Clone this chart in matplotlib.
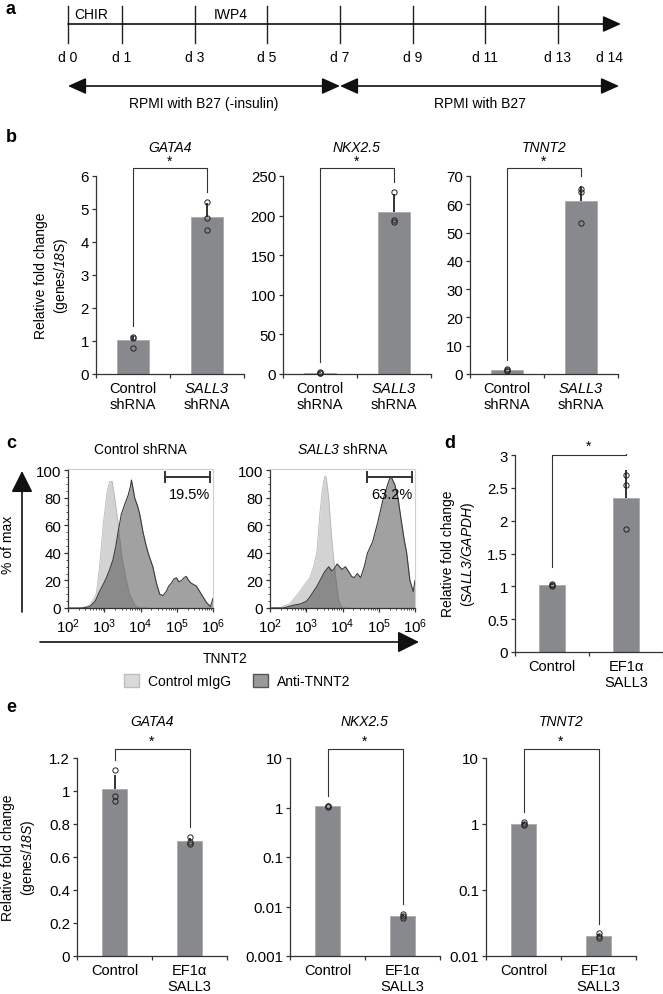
import numpy as np
import matplotlib
matplotlib.use('Agg')
import matplotlib.pyplot as plt
import matplotlib.transforms as mtransforms
from matplotlib.patches import Patch
from matplotlib.ticker import MultipleLocator, NullLocator, LogLocator

plt.rcParams['font.family'] = ['Liberation Sans', 'DejaVu Sans']
plt.rcParams['mathtext.fontset'] = 'custom'
plt.rcParams['mathtext.rm'] = 'Liberation Sans'
plt.rcParams['mathtext.it'] = 'Liberation Sans:italic'
# sf slot used for italic gene names so digits are slanted too
plt.rcParams['mathtext.sf'] = 'Liberation Sans:italic'
plt.rcParams['mathtext.bf'] = 'Liberation Sans:bold'
plt.rcParams['font.size'] = 10

# ---- data ----
days = ['d 0', 'd 1', 'd 3', 'd 5', 'd 7', 'd 9', 'd 11', 'd 13', 'd 14']
treatments = ['CHIR', 'IWP4']
media = ['RPMI with B27 (-insulin)', 'RPMI with B27']

genes = ['GATA4', 'NKX2.5', 'TNNT2']
kd_groups = ['Control\nshRNA', '$\\mathsf{SALL3}$\nshRNA']
oe_groups = ['Control', 'EF1\u03b1\nSALL3']

# b: knockdown qPCR (genes/18S)
kd_gata4_mean = [1.03, 4.75]
kd_gata4_sd = [0.12, 0.43]
kd_gata4_pts = [[0.80, 1.10, 1.12], [4.35, 4.73, 5.20]]
kd_nkx25_mean = [1.6, 205]
kd_nkx25_sd = [0.8, 22]
kd_nkx25_pts = [[1.0, 1.8, 2.5], [192, 194, 230]]
kd_tnnt2_mean = [1.3, 61.0]
kd_tnnt2_sd = [0.3, 5.5]
kd_tnnt2_pts = [[1.0, 1.3, 1.6], [53.5, 64.5, 65.5]]

# c: flow histograms (log10 TNNT2 intensity, % of max)
ctrl_igg_x = [2.30, 2.45, 2.60, 2.78, 2.87, 2.97, 3.08, 3.15, 3.22, 3.29, 3.38, 3.47, 3.59, 3.70, 3.84, 3.98, 4.20]
ctrl_igg_y = [0, 0.5, 2, 10, 30, 60, 85, 92, 92, 80, 62, 40, 22, 10, 2, 0, 0]
ctrl_anti_x = [2.0, 2.40, 2.60, 2.75, 2.87, 2.97, 3.06, 3.15, 3.24, 3.32, 3.38, 3.47, 3.56, 3.66, 3.72, 3.75,
               3.80, 3.84, 3.92, 3.98, 4.07, 4.14, 4.21, 4.34, 4.44, 4.53, 4.62, 4.71, 4.78, 4.85, 4.92, 4.99,
               5.06, 5.13, 5.20, 5.26, 5.33, 5.40, 5.47, 5.54, 5.61, 5.68, 5.75, 5.82, 5.93, 6.0]
ctrl_anti_y = [0, 0, 1, 5, 12, 17, 22, 28, 35, 45, 55, 68, 75, 82, 88, 93,
               86, 80, 74, 68, 55, 47, 40, 30, 18, 10, 9, 12, 16, 18, 21, 22,
               19, 20, 22, 23, 20, 18, 17, 16, 13, 10, 7, 4, 1, 7]
sall3_igg_x = [2.0, 2.30, 2.54, 2.70, 2.82, 2.95, 3.10, 3.20, 3.29, 3.38, 3.44, 3.48, 3.52, 3.55, 3.62,
               3.66, 3.71, 3.76, 3.80, 3.86, 3.90, 3.99, 4.20]
sall3_igg_y = [0, 0.5, 3, 8, 12, 17, 22, 30, 40, 70, 85, 92, 96, 95, 80, 65, 48, 35, 25, 12, 5, 0, 0]
sall3_anti_x = [2.0, 2.36, 2.64, 2.85, 3.01, 3.10, 3.20, 3.30, 3.38, 3.50, 3.62, 3.70, 3.76, 3.85, 3.92, 3.99,
                4.08, 4.18, 4.25, 4.32, 4.41, 4.50, 4.55, 4.60, 4.69, 4.76, 4.83, 4.90, 4.97, 5.04, 5.11,
                5.18, 5.25, 5.30, 5.35, 5.40, 5.44, 5.53, 5.63, 5.70, 5.77, 5.86, 5.95, 6.0]
sall3_anti_y = [0, 0, 2, 3, 5, 8, 12, 16, 20, 26, 30, 27, 28, 32, 30, 28,
                30, 26, 23, 22, 25, 22, 26, 30, 40, 44, 48, 55, 62, 70, 78,
                84, 90, 94, 95, 92, 90, 80, 62, 50, 40, 20, 12, 20]
gate_pct = ['19.5%', '63.2%']

# d: SALL3 overexpression (SALL3/GAPDH)
oe_sall3_mean = [1.02, 2.35]
oe_sall3_sd = [0.03, 0.42]
oe_sall3_pts = [[1.00, 1.02, 1.04], [1.88, 2.55, 2.70]]

# e: overexpression qPCR (genes/18S)
oe_gata4_mean = [1.01, 0.697]
oe_gata4_sd = [0.09, 0.02]
oe_gata4_pts = [[0.94, 0.97, 1.127], [0.68, 0.69, 0.72]]
oe_nkx25_mean = [1.05, 0.0065]
oe_nkx25_sd = [0.03, 0.0005]
oe_nkx25_pts = [[1.02, 1.05, 1.08], [0.0059, 0.0065, 0.0071]]
oe_tnnt2_mean = [1.0, 0.020]
oe_tnnt2_sd = [0.07, 0.0015]
oe_tnnt2_pts = [[0.95, 1.0, 1.08], [0.019, 0.020, 0.022]]

# ---- style ----
W, H = 663, 995
BAR = '#88898d'
AXC = '#333333'
TICK_FS = 10.8
fig = plt.figure(figsize=(W / 100, H / 100), dpi=100)


def add_ax(x0, y0, x1, y1):
    return fig.add_axes([x0 / W, 1 - y1 / H, (x1 - x0) / W, (y1 - y0) / H])


def style_spines(ax):
    for s in ['top', 'right']:
        ax.spines[s].set_visible(False)
    for s in ['left', 'bottom']:
        ax.spines[s].set_color(AXC)
        ax.spines[s].set_linewidth(0.9)
    ax.tick_params(axis='y', which='major', length=3, width=0.9, color=AXC, pad=2, labelsize=TICK_FS)


def bar_panel(ax, labels, mean, sd, pts, width, log=False):
    x = np.arange(len(mean))
    bottom = ax.get_ylim()[0] if log else 0
    ax.bar(x, np.array(mean) - bottom, bottom=bottom, width=width, color=BAR,
           edgecolor='#a9aaad', linewidth=0.6, zorder=1)
    ax.errorbar(x, mean, yerr=[np.zeros(len(sd)), sd], fmt='none', ecolor='#111111',
                elinewidth=1.2, capsize=0, zorder=2)
    for xi, p in zip(x, pts):
        ax.plot(np.full(len(p), xi), p, 'o', ms=3.8, mfc='none', mec='#222222', mew=0.7,
                zorder=3, clip_on=False)
    ax.set_xlim(-0.5, 1.5)
    ax.set_xticks([-0.5, 0.5, 1.5])
    ax.set_xticklabels([])
    ax.set_xticks(x, labels, minor=True)
    ax.tick_params(axis='x', which='major', length=3, width=0.9, color=AXC)
    ax.tick_params(axis='x', which='minor', length=0, pad=5, labelsize=10.5)
    style_spines(ax)


def bracket(ax, mean, sd, pts, y_bar, y_star, gap=0.05):
    tr = mtransforms.blended_transform_factory(ax.transData, ax.transAxes)
    to_ax = ax.transData + ax.transAxes.inverted()
    legs = []
    for i, (m, s, p) in enumerate(zip(mean, sd, pts)):
        top = max(max(p), m + s)
        legs.append(to_ax.transform((i, top))[1] + gap)
    ax.plot([0, 0, 1, 1], [legs[0], y_bar, y_bar, legs[1]], color=AXC, lw=0.8,
            transform=tr, clip_on=False)
    ax.text(0.5, y_star, '*', transform=tr, ha='center', va='center', fontsize=10)


def title(ax, txt, y):
    ax.text(0.5, y, txt, transform=ax.transAxes, ha='center', va='center',
            style='italic', fontsize=10)


# overlay for panel a, labels, arrows
ov = fig.add_axes([0, 0, 1, 1], zorder=10)
ov.set_xlim(0, W)
ov.set_ylim(H, 0)
ov.axis('off')

# ---- panel a: timeline ----
tick_x = [68, 122, 195, 267, 340, 413, 485, 558, 609]
ov.annotate('', xy=(621, 25), xytext=(68, 25),
            arrowprops=dict(arrowstyle='-|>,head_length=1.0,head_width=0.45', mutation_scale=11,
                            lw=1.2, color='#111111', shrinkA=0, shrinkB=0))
for xx, lab in zip(tick_x, days):
    if lab != days[-1]:
        ov.plot([xx, xx], [7, 44], color='#222222', lw=1)
    ov.text(xx, 58, lab, ha='center', va='center', fontsize=10)
ov.text(74, 15, treatments[0], ha='left', va='center', fontsize=10)
ov.text(231, 15, treatments[1], ha='center', va='center', fontsize=10)
for xa, xb, lab in [(68, 340, media[0]), (340, 619, media[1])]:
    ov.annotate('', xy=(xb, 87), xytext=(xa, 87),
                arrowprops=dict(arrowstyle='<|-|>,head_length=1.0,head_width=0.45', mutation_scale=11,
                                lw=1.2, color='#111111', shrinkA=0, shrinkB=0))
    ov.text((xa + xb) / 2, 104, lab, ha='center', va='center', fontsize=10)

# ---- panel b ----
kd_sets = [(kd_gata4_mean, kd_gata4_sd, kd_gata4_pts, 6, 1),
           (kd_nkx25_mean, kd_nkx25_sd, kd_nkx25_pts, 250, 50),
           (kd_tnnt2_mean, kd_tnnt2_sd, kd_tnnt2_pts, 70, 10)]
for x0, gene, (m, s, p, top, step) in zip([96, 283, 470], genes, kd_sets):
    ax = add_ax(x0, 177, x0 + 148, 375)
    ax.set_ylim(0, top)
    ax.yaxis.set_major_locator(MultipleLocator(step))
    bar_panel(ax, kd_groups, m, s, p, width=0.44)
    bracket(ax, m, s, p, y_bar=1.04, y_star=1.075)
    title(ax, gene, 1.146)
ov.text(52, 276, 'Relative fold change\n(genes/$\\mathsf{18S}$)', rotation=90, ha='center',
        va='center', fontsize=10, linespacing=1.35, multialignment='center')

# ---- panel c: flow histograms ----
hist_sets = [('Control shRNA', ctrl_igg_x, ctrl_igg_y, ctrl_anti_x, ctrl_anti_y, gate_pct[0]),
             ('$\\mathsf{SALL3}$ shRNA', sall3_igg_x, sall3_igg_y, sall3_anti_x, sall3_anti_y, gate_pct[1])]
for x0, (ttl, gx, gy, axx, ay, pct) in zip([68, 270], hist_sets):
    ax = add_ax(x0, 470, x0 + 145, 609)
    ax.set_xscale('log')
    gxv = 10 ** np.array(gx)
    axv = 10 ** np.array(axx)
    ax.fill_between(gxv, gy, color='#d3d3d3', lw=0, zorder=1)
    ax.plot(gxv, gy, color='#b8b8b8', lw=0.6, zorder=1)
    ax.fill_between(axv, ay, color='#3c3c3c', alpha=0.48, lw=0, zorder=2)
    ax.plot(axv, ay, color='#3a3a3a', lw=0.8, zorder=3)
    ax.set_xlim(1e2, 1e6)
    ax.set_ylim(0, 101)
    ax.yaxis.set_major_locator(MultipleLocator(20))
    ax.yaxis.set_minor_locator(MultipleLocator(5))
    ax.xaxis.set_major_locator(LogLocator(base=10, numticks=10))
    ax.xaxis.set_minor_locator(LogLocator(base=10, subs=np.arange(2, 10), numticks=10))
    for s in ['top', 'right']:
        ax.spines[s].set_color('#cfcfcf')
        ax.spines[s].set_linewidth(0.8)
    for s in ['left', 'bottom']:
        ax.spines[s].set_color(AXC)
        ax.spines[s].set_linewidth(0.9)
    ax.tick_params(which='major', length=3, width=0.9, color=AXC, labelsize=TICK_FS, pad=2)
    ax.tick_params(which='minor', length=1.6, width=0.6, color=AXC)
    ax.tick_params(axis='x', which='major', pad=3)
    lo, hi = 10 ** 4.68, 10 ** 5.91
    ax.plot([lo, hi], [95, 95], color='#333333', lw=1.4)
    ax.plot([lo, lo], [91.5, 98.5], color='#333333', lw=1.4)
    ax.plot([hi, hi], [91.5, 98.5], color='#333333', lw=1.4)
    ax.text(10 ** 5.93, 83, pct, ha='right', va='center', fontsize=10.5)
    ax.text(0.5, 1.144, ttl, transform=ax.transAxes, ha='center', va='center', fontsize=10)

ov.annotate('', xy=(22, 472), xytext=(22, 613),
            arrowprops=dict(arrowstyle='-|>,head_length=1.1,head_width=0.55', mutation_scale=12,
                            lw=1.2, color='#111111', shrinkA=0, shrinkB=0))
ov.annotate('', xy=(419, 643), xytext=(40, 643),
            arrowprops=dict(arrowstyle='-|>,head_length=1.1,head_width=0.55', mutation_scale=12,
                            lw=1.2, color='#111111', shrinkA=0, shrinkB=0))
ov.text(8, 545, '% of max', rotation=90, ha='center', va='center', fontsize=10)
ov.text(225, 659, 'TNNT2', ha='center', va='center', fontsize=10)
handles = [Patch(facecolor='#dadada', edgecolor='#bdbdbd', label='Control mIgG'),
           Patch(facecolor='#9a9a9a', edgecolor='#555555', label='Anti-TNNT2')]
fig.legend(handles=handles, loc='center', bbox_to_anchor=(237 / W, 1 - 682 / H), ncol=2,
           frameon=False, handlelength=1.1, handleheight=1.1, columnspacing=1.6,
           handletextpad=0.6, fontsize=10)

# ---- panel d ----
ax = add_ax(515, 456, 663, 653)
ax.set_ylim(0, 3)
ax.yaxis.set_major_locator(MultipleLocator(0.5))
ax.yaxis.set_major_formatter(plt.FuncFormatter(lambda v, _: f'{v:g}'))
bar_panel(ax, oe_groups, oe_sall3_mean, oe_sall3_sd, oe_sall3_pts, width=0.34)
bracket(ax, oe_sall3_mean, oe_sall3_sd, oe_sall3_pts, y_bar=1.0, y_star=1.045, gap=0.08)
ov.text(459, 554, 'Relative fold change\n($\\mathsf{SALL3/GAPDH}$)', rotation=90, ha='center',
        va='center', fontsize=10, linespacing=1.35, multialignment='center')

# ---- panel e ----
oe_sets = [(oe_gata4_mean, oe_gata4_sd, oe_gata4_pts, False, (0, 1.2)),
           (oe_nkx25_mean, oe_nkx25_sd, oe_nkx25_pts, True, (0.001, 10)),
           (oe_tnnt2_mean, oe_tnnt2_sd, oe_tnnt2_pts, True, (0.01, 10))]
for x0, gene, (m, s, p, lg, lim) in zip([77, 290, 486], genes, oe_sets):
    ax = add_ax(x0, 759, x0 + 150, 957)
    if lg:
        ax.set_yscale('log')
        ax.set_ylim(*lim)
        ax.yaxis.set_major_locator(LogLocator(base=10, numticks=10))
        ax.yaxis.set_minor_locator(NullLocator())
    else:
        ax.set_ylim(*lim)
        ax.yaxis.set_major_locator(MultipleLocator(0.2))
    ax.yaxis.set_major_formatter(plt.FuncFormatter(lambda v, _: f'{v:g}'))
    bar_panel(ax, oe_groups, m, s, p, width=0.34, log=lg)
    bracket(ax, m, s, p, y_bar=1.045, y_star=1.085)
    title(ax, gene, 1.187)
ov.text(19, 858, 'Relative fold change\n(genes/$\\mathsf{18S}$)', rotation=90, ha='center',
        va='center', fontsize=10, linespacing=1.35, multialignment='center')

# panel letters
for lab, xx, yy in [('a', 6, 10), ('b', 6, 137), ('c', 6, 443), ('d', 444, 443), ('e', 6, 707)]:
    ov.text(xx, yy, lab, ha='left', va='center', fontsize=13, fontweight='bold')

fig.savefig('out.png', dpi=100)
